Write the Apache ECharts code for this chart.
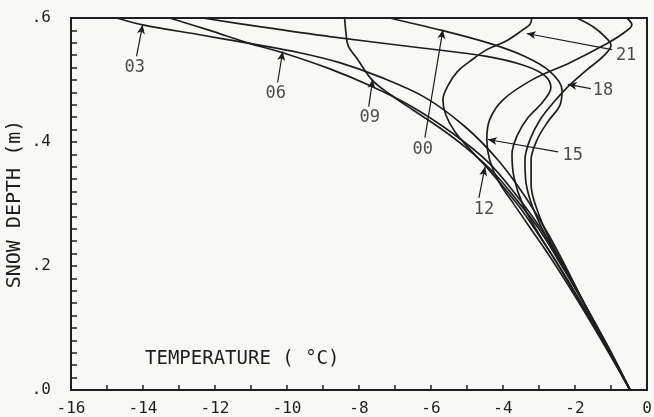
<!DOCTYPE html>
<html>
<head>
<meta charset="utf-8">
<script src="https://cdn.jsdelivr.net/npm/echarts@6/dist/echarts.min.js"></script>
<style>
html,body{margin:0;padding:0;background:#f8f8f6;}
#c{width:654px;height:417px;}
</style>
</head>
<body>
<div id="c"></div>
<script>
// Temperature (°C), snow depth (m) profiles
const curve03 = [[-14.73,0.60],[-14.01,0.589],[-12.43,0.573],[-11.04,0.559],[-9.65,0.544],[-8.54,0.528],[-7.42,0.505],[-6.17,0.472],[-5.06,0.425],[-4.14,0.371],[-3.42,0.315],[-2.81,0.258],[-2.33,0.207],[-1.75,0.140],[-1.11,0.069],[-0.47,0]];
const curve06 = [[-13.26,0.60],[-12.15,0.580],[-11.04,0.559],[-10.12,0.544],[-8.81,0.518],[-7.70,0.491],[-6.53,0.457],[-5.42,0.415],[-4.42,0.368],[-3.64,0.315],[-2.97,0.262],[-2.44,0.210],[-1.78,0.142],[-1.11,0.069],[-0.47,0]];
const curve09 = [[-8.40,0.60],[-8.36,0.575],[-8.30,0.555],[-8.06,0.535],[-7.62,0.499],[-7.09,0.475],[-6.51,0.452],[-5.76,0.423],[-5.03,0.391],[-4.28,0.352],[-3.64,0.308],[-3.03,0.262],[-2.50,0.213],[-1.80,0.145],[-1.11,0.073],[-0.47,0]];
const curve12 = [[-12.34,0.60],[-10.76,0.586],[-8.81,0.570],[-6.31,0.552],[-4.45,0.538],[-3.39,0.523],[-2.84,0.507],[-2.67,0.488],[-2.89,0.465],[-3.31,0.439],[-3.61,0.410],[-3.75,0.380],[-3.69,0.342],[-3.45,0.299],[-3.03,0.254],[-2.53,0.207],[-1.86,0.142],[-1.14,0.071],[-0.47,0]];
const curve15 = [[-0.56,0.60],[-0.42,0.589],[-0.67,0.575],[-1.11,0.559],[-2.14,0.528],[-3.17,0.501],[-4.00,0.468],[-4.37,0.436],[-4.45,0.404],[-4.37,0.371],[-4.12,0.336],[-3.69,0.299],[-3.19,0.257],[-2.64,0.210],[-1.92,0.144],[-1.17,0.071],[-0.47,0]];
const curve18 = [[-1.95,0.60],[-1.50,0.586],[-1.17,0.570],[-1.00,0.556],[-1.22,0.538],[-1.72,0.514],[-2.20,0.489],[-2.61,0.463],[-2.97,0.436],[-3.25,0.404],[-3.39,0.371],[-3.36,0.334],[-3.17,0.294],[-2.81,0.249],[-2.33,0.202],[-1.72,0.137],[-1.08,0.069],[-0.47,0]];
const curve21 = [[-3.20,0.60],[-3.25,0.590],[-3.47,0.580],[-3.94,0.562],[-4.45,0.549],[-4.92,0.530],[-5.26,0.514],[-5.51,0.493],[-5.67,0.468],[-5.59,0.444],[-5.34,0.417],[-4.92,0.388],[-4.45,0.359],[-3.97,0.326],[-3.50,0.292],[-3.03,0.252],[-2.53,0.208],[-1.86,0.144],[-1.14,0.071],[-0.47,0]];
const curve00 = [[-7.15,0.60],[-5.70,0.580],[-4.37,0.559],[-3.39,0.538],[-2.70,0.514],[-2.36,0.484],[-2.42,0.459],[-2.75,0.433],[-3.05,0.404],[-3.22,0.371],[-3.22,0.331],[-3.03,0.287],[-2.70,0.242],[-2.25,0.194],[-1.67,0.132],[-1.08,0.068],[-0.47,0]];

// Curve labels with their arrows (label point, arrow tail, arrow tip)
const labelNames = ['03','06','09','00','21','18','15','12'];
const labelPos   = [[-14.23,0.520],[-10.31,0.478],[-7.70,0.439],[-6.23,0.388],[-0.58,0.539],[-1.22,0.483],[-2.06,0.378],[-4.53,0.291]];
const arrowFrom  = [[-14.18,0.538],[-10.26,0.496],[-7.73,0.457],[-6.17,0.407],[-0.97,0.549],[-1.56,0.486],[-2.47,0.384],[-4.67,0.310]];
const arrowTo    = [[-14.01,0.589],[-10.12,0.546],[-7.62,0.501],[-5.67,0.581],[-3.34,0.575],[-2.20,0.493],[-4.42,0.404],[-4.50,0.360]];

// Axis ticks: tick step and labelled step
const xTicks = {min:-16, max:0, tick:1, label:2};
const yTicks = {min:0, max:0.6, tick:0.02, label:0.2};

const FONT = 'DejaVu Sans Mono';
const INK = '#1e1e1e';

const curves = [curve03, curve06, curve09, curve12, curve15, curve18, curve21, curve00];
const curveNames = ['03','06','09','12','15','18','21','00'];

const series = curves.map((c,i)=>({
  type:'line', name:curveNames[i], data:c, smooth:0.35, symbol:'none',
  lineStyle:{color:INK, width:1.7}, z:3, silent:true
}));

series.push({
  type:'scatter', symbolSize:0, silent:true, z:5,
  data: labelNames.map((n,i)=>({name:n, value:labelPos[i]})),
  label:{show:true, position:'inside', formatter:p=>p.name, fontFamily:FONT, fontSize:17, color:INK},
  markLine:{
    silent:true, symbol:['none','arrow'], symbolSize:[6,9],
    lineStyle:{color:INK, width:1.2, type:'solid'}, label:{show:false},
    data: arrowFrom.map((f,i)=>[{coord:f},{coord:arrowTo[i]}])
  }
});

function isMultiple(v, step){ const r = v/step; return Math.abs(r - Math.round(r)) < 1e-6; }

const chart = echarts.init(document.getElementById('c'), null, {renderer:'canvas'});
chart.setOption({
  backgroundColor:'#f8f8f6',
  animation:false,
  title:{text:'TEMPERATURE ( °C)', left:140, top:345, textStyle:{fontFamily:FONT, fontSize:19, fontWeight:'normal', color:INK}},
  grid:{left:71, right:7, top:18, bottom:27, show:true, borderColor:INK, borderWidth:2, backgroundColor:'transparent', containLabel:false, outerBoundsMode:'none'},
  xAxis:{
    type:'value', min:xTicks.min, max:xTicks.max, interval:xTicks.tick,
    axisLine:{show:true, onZero:false, lineStyle:{color:INK, width:2}},
    axisTick:{show:true, inside:true, length:5, lineStyle:{color:INK, width:1.5}},
    splitLine:{show:false},
    axisLabel:{fontFamily:FONT, fontSize:16, color:INK, margin:11, hideOverlap:false,
      formatter:v=>isMultiple(v, xTicks.label) ? String(Math.round(v)) : ''}
  },
  yAxis:{
    type:'value', position:'left', min:yTicks.min, max:yTicks.max, interval:yTicks.tick,
    name:'SNOW DEPTH (m)', nameLocation:'middle', nameGap:46, nameRotate:90, nameMoveOverlap:false,
    nameTextStyle:{fontFamily:FONT, fontSize:20, color:INK},
    axisLine:{show:true, onZero:false, lineStyle:{color:INK, width:2}},
    axisTick:{show:true, inside:true, length:6, lineStyle:{color:INK, width:1.5}},
    splitLine:{show:false},
    axisLabel:{fontFamily:FONT, fontSize:16, color:INK, margin:20, hideOverlap:false,
      formatter:v=>isMultiple(v, yTicks.label) ? v.toFixed(1).replace(/^0/,'') : ''}
  },
  series:series
});
</script>
</body>
</html>
